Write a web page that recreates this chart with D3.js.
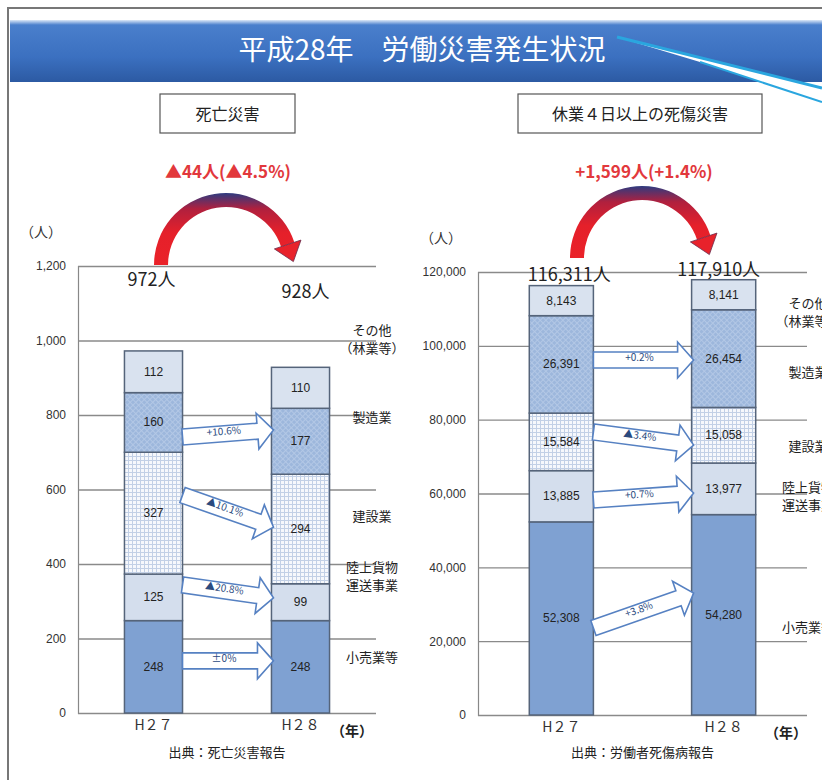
<!DOCTYPE html>
<html>
<head>
<meta charset="utf-8">
<script src="https://cdn.jsdelivr.net/npm/d3@7"></script>
<style>
  body { margin: 0; background: #fff; }
  svg { display: block; font-family: "Noto Sans CJK JP", "Noto Sans", sans-serif; }
  .tick text { font-family: "Liberation Sans Narrow", "Liberation Sans", sans-serif; font-size: 12px; fill: #333; }
</style>
</head>
<body>
<div id="chart"></div>
<script>
const svgWidth = 822, svgHeight = 780;

// data
const segments = ["小売業等", "陸上貨物運送事業", "建設業", "製造業", "その他（林業等）"];
const years = ["H27", "H28"];
const yearLabels = ["H２７", "H２８"];

const deathH27 = [248, 125, 327, 160, 112];
const deathH28 = [248, 99, 294, 177, 110];
const deathTotals = ["972人", "928人"];
const deathChange = ["±0%", "▲20.8%", "▲10.1%", "+10.6%"];
const deathArrowFrom = [140, 344, 585, 741]; // in 人 units on the y scale
const deathArrowTo = [140, 309, 499, 760];
const deathTicks = [0, 200, 400, 600, 800, 1000, 1200];

const injuryH27 = [52308, 13885, 15584, 26391, 8143];
const injuryH28 = [54280, 13977, 15058, 26454, 8141];
const injuryTotals = ["116,311人", "117,910人"];
const injuryChange = ["+3.8%", "+0.7%", "▲3.4%", "+0.2%"];
const injuryArrowFrom = [23570, 58240, 76660, 96160];
const injuryArrowTo = [33050, 60130, 73140, 96160];
const injuryTicks = [0, 20000, 40000, 60000, 80000, 100000, 120000];

// category label lines + where they sit on each y scale
const catLines = [["小売業等"], ["陸上貨物", "運送事業"], ["建設業"], ["製造業"], ["その他", "（林業等）"]];
const deathCatAt = [150, 368, 529, 795, 1004];
const injuryCatAt = [23840, 59320, 72860, 92900, 109150];

const fills = ["#7fa1d2", "#d4deed", "url(#grid)", "url(#cross)", "#d9e2ef"];

let svg = d3.select("#chart").append("svg")
    .attr("width", svgWidth)
    .attr("height", svgHeight);

let defs = svg.append("defs");

// banner gradient
let bg = defs.append("linearGradient").attr("id", "banner")
    .attr("x1", 0).attr("y1", 0).attr("x2", 0).attr("y2", 1);
bg.append("stop").attr("offset", "0%").attr("stop-color", "#dce8f7");
bg.append("stop").attr("offset", "8%").attr("stop-color", "#4a7fcc");
bg.append("stop").attr("offset", "60%").attr("stop-color", "#3b70c0");
bg.append("stop").attr("offset", "100%").attr("stop-color", "#2c5aa3");

// red arc gradient (navy tint at the top)
let rg = defs.append("linearGradient").attr("id", "redarc")
    .attr("x1", 0).attr("y1", 0).attr("x2", 0).attr("y2", 1);
rg.append("stop").attr("offset", "0%").attr("stop-color", "#2e3b80");
rg.append("stop").attr("offset", "22%").attr("stop-color", "#b0203e");
rg.append("stop").attr("offset", "55%").attr("stop-color", "#e5202a");
rg.append("stop").attr("offset", "100%").attr("stop-color", "#ea2229");

// 建設業 pattern
let pg = defs.append("pattern").attr("id", "grid")
    .attr("width", 4).attr("height", 4).attr("patternUnits", "userSpaceOnUse");
pg.append("rect").attr("width", 4).attr("height", 4).attr("fill", "#f6f8fc");
pg.append("path").attr("d", "M0,0.5H4M0.5,0V4").attr("stroke", "#c2d0e6").attr("stroke-width", 1);

// 製造業 pattern
let pc = defs.append("pattern").attr("id", "cross")
    .attr("width", 4).attr("height", 4).attr("patternUnits", "userSpaceOnUse")
    .attr("patternTransform", "rotate(45)");
pc.append("rect").attr("width", 4).attr("height", 4).attr("fill", "#9db7dc");
pc.append("path").attr("d", "M0,0.5H4M0.5,0V4").attr("stroke", "#b4c8e6").attr("stroke-width", 0.9);

// frame + banner
svg.append("path")
    .attr("d", "M8,780V8H822")
    .attr("fill", "none").attr("stroke", "#777").attr("stroke-width", 2);
svg.append("rect")
    .attr("x", 10).attr("y", 20).attr("width", 812).attr("height", 62)
    .attr("fill", "url(#banner)");
svg.append("text")
    .attr("x", 422).attr("y", 60)
    .attr("text-anchor", "middle")
    .attr("fill", "#fff")
    .attr("font-size", 28)
    .text("平成28年　労働災害発生状況");

// callout pointer from the title
svg.append("polygon")
    .attr("points", "617,37 822,88 822,102 700,62")
    .attr("fill", "#fff");
svg.append("path")
    .attr("d", "M617,37L822,88")
    .attr("stroke", "#2aa6df").attr("stroke-width", 3);
svg.append("path")
    .attr("d", "M700,62L822,102")
    .attr("stroke", "#2aa6df").attr("stroke-width", 2);

drawPanel({
    title: "死亡災害", titleBox: [160, 94, 135, 39],
    change: "▲44人(▲4.5%)",
    values: [deathH27, deathH28], totals: deathTotals,
    changes: deathChange, arrowFrom: deathArrowFrom, arrowTo: deathArrowTo,
    ticks: deathTicks, domain: [0, 1200],
    x0: 78, x1: 376, y0: 713, y1: 266,
    catAt: deathCatAt, catX: 372,
    arcCenter: [226, 265],
    totalOffsets: [[-2, 20], [5, 32]],
    yearAt: 352,
    source: "出典：死亡災害報告"
});

drawPanel({
    title: "休業４日以上の死傷災害", titleBox: [518, 94, 244, 39],
    change: "+1,599人(+1.4%)",
    values: [injuryH27, injuryH28], totals: injuryTotals,
    changes: injuryChange, arrowFrom: injuryArrowFrom, arrowTo: injuryArrowTo,
    ticks: injuryTicks, domain: [0, 120000],
    x0: 478, x1: 807, y0: 715, y1: 272,
    catAt: injuryCatAt, catX: 808,
    arcCenter: [642, 258],
    totalOffsets: [[8, 9], [-5, 4]],
    yearAt: 786,
    source: "出典：労働者死傷病報告"
});

function drawPanel(cfg) {
    let g = svg.append("g");
    let cx = (cfg.x0 + cfg.x1) / 2 + 10;

    // title box
    g.append("rect")
        .attr("x", cfg.titleBox[0]).attr("y", cfg.titleBox[1])
        .attr("width", cfg.titleBox[2]).attr("height", cfg.titleBox[3])
        .attr("fill", "#fff").attr("stroke", "#555").attr("stroke-width", 1.2);
    g.append("text")
        .attr("x", cfg.titleBox[0] + cfg.titleBox[2] / 2)
        .attr("y", cfg.titleBox[1] + 26)
        .attr("text-anchor", "middle")
        .attr("font-size", 16).attr("fill", "#222")
        .text(cfg.title);

    // scales
    let y = d3.scaleLinear().domain(cfg.domain).range([cfg.y0, cfg.y1]);
    let x = d3.scaleBand().domain(years)
        .range([cfg.x0, cfg.x1])
        .paddingInner(0.605).paddingOuter(0.316);
    let bw = x.bandwidth();

    // change text + arc arrow
    g.append("text")
        .attr("x", cfg.arcCenter[0] + 2).attr("y", 178)
        .attr("text-anchor", "middle")
        .attr("font-size", 17).attr("font-weight", "bold")
        .attr("fill", "#e2383c")
        .text(cfg.change);

    let rIn = 58, rOut = 72, endA = 1.25;
    let ac = g.append("g").attr("transform", `translate(${cfg.arcCenter[0]},${cfg.arcCenter[1]})`);
    ac.append("path")
        .attr("d", d3.arc()({ innerRadius: rIn, outerRadius: rOut, startAngle: -Math.PI / 2, endAngle: endA }))
        .attr("fill", "url(#redarc)");
    let rm = (rIn + rOut) / 2,
        px = rm * Math.sin(endA), py = -rm * Math.cos(endA),
        tx = Math.cos(endA), ty = Math.sin(endA),
        nx = -ty, ny = tx, hw = 14, hl = 18;
    ac.append("path")
        .attr("d", `M${px + nx * hw},${py + ny * hw}L${px + tx * hl},${py + ty * hl}L${px - nx * hw},${py - ny * hw}Z`)
        .attr("fill", "#e8222b").attr("stroke", "#6a2a4a").attr("stroke-width", 0.8);

    // axis with gridlines
    let axis = g.append("g")
        .attr("transform", `translate(${cfg.x0},0)`)
        .call(d3.axisLeft(y).tickValues(cfg.ticks).tickFormat(d3.format(","))
            .tickSize(-(cfg.x1 - cfg.x0)).tickPadding(12));
    axis.select(".domain").attr("stroke", "#888").attr("stroke-width", 1.2);
    axis.selectAll(".tick line").attr("stroke", "#8a8a8a").attr("stroke-width", 1.3);

    g.append("text")
        .attr("x", cfg.x0 - 58).attr("y", cfg.y1 - 29)
        .attr("font-size", 14).attr("fill", "#333")
        .text("（人）");

    // stacked bars
    cfg.values.forEach((vals, yi) => {
        let stack = [], acc = 0;
        vals.forEach((v, i) => { stack.push({ i: i, v: v, lo: acc, hi: acc + v }); acc += v; });
        let bar = g.append("g");
        bar.selectAll("rect")
            .data(stack)
            .join("rect")
            .attr("x", x(years[yi]))
            .attr("y", (d) => y(d.hi))
            .attr("width", bw)
            .attr("height", (d) => y(d.lo) - y(d.hi))
            .attr("fill", (d) => fills[d.i])
            .attr("stroke", "#55647a")
            .attr("stroke-width", 1.5);
        bar.selectAll("text")
            .data(stack)
            .join("text")
            .attr("x", x(years[yi]) + bw / 2)
            .attr("y", (d) => y((d.lo + d.hi) / 2) + 4)
            .attr("text-anchor", "middle")
            .attr("font-size", 12).attr("fill", "#222")
            .style("font-family", "'Liberation Sans Narrow', 'Liberation Sans', sans-serif")
            .text((d) => d3.format(",")(d.v));

        // totals above the bars
        g.append("text")
            .attr("x", x(years[yi]) + bw / 2 + cfg.totalOffsets[yi][0])
            .attr("y", cfg.y1 + cfg.totalOffsets[yi][1])
            .attr("text-anchor", "middle")
            .attr("font-size", 18).attr("fill", "#222")
            .text(cfg.totals[yi]);

        // x labels
        g.append("text")
            .attr("x", x(years[yi]) + bw / 2)
            .attr("y", cfg.y0 + 17)
            .attr("text-anchor", "middle")
            .attr("font-size", 14).attr("fill", "#333")
            .text(yearLabels[yi]);
    });

    g.append("text")
        .attr("x", cfg.yearAt).attr("y", cfg.y0 + 23)
        .attr("text-anchor", "middle")
        .attr("font-size", 14).attr("fill", "#222").attr("font-weight", "bold")
        .text("（年）");

    // change arrows between bars
    let ax0 = x(years[0]) + bw, ax1 = x(years[1]) + 2;
    cfg.changes.forEach((t, i) => {
        let ya = y(cfg.arrowFrom[i]), yb = y(cfg.arrowTo[i]);
        let L = Math.hypot(ax1 - ax0, yb - ya),
            ang = Math.atan2(yb - ya, ax1 - ax0) * 180 / Math.PI,
            h = 8, H = 18, hl = 16;
        let ag = g.append("g").attr("transform", `translate(${ax0},${ya}) rotate(${ang})`);
        ag.append("path")
            .attr("d", `M0,${-h}L${L - hl},${-h}L${L - hl},${-H}L${L},0L${L - hl},${H}L${L - hl},${h}L0,${h}Z`)
            .attr("fill", "#fff").attr("stroke", "#5681c2").attr("stroke-width", 1.6);
        ag.append("text")
            .attr("x", (L - hl) / 2 + 4).attr("y", 1)
            .attr("text-anchor", "middle")
            .attr("font-size", 10).attr("fill", "#2b4a7e")
            .text(t);
    });

    // category labels to the right
    catLines.forEach((lines, i) => {
        let t = g.append("text")
            .attr("x", cfg.catX).attr("y", y(cfg.catAt[i]) - (lines.length - 1) * 9 + 5)
            .attr("text-anchor", "middle")
            .attr("font-size", 13).attr("fill", "#222");
        lines.forEach((s, j) => {
            t.append("tspan").attr("x", cfg.catX).attr("dy", j === 0 ? 0 : 18).text(s);
        });
    });

    // source
    g.append("text")
        .attr("x", cx - 10).attr("y", 757)
        .attr("text-anchor", "middle")
        .attr("font-size", 13).attr("fill", "#222")
        .text(cfg.source);
}
</script>
</body>
</html>
